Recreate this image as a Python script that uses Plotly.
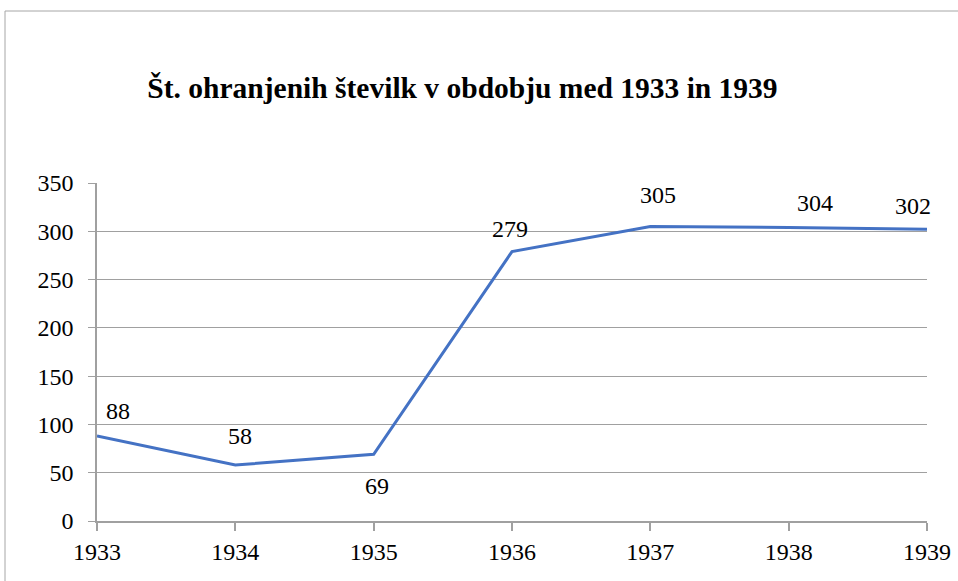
import plotly.graph_objects as go

years = [1933, 1934, 1935, 1936, 1937, 1938, 1939]
values = [88, 58, 69, 279, 305, 304, 302]
title = "Št. ohranjenih številk v obdobju med 1933 in 1939"
label_shift = [(21, 25), (5, 29), (3, -32), (-2, 23), (8, 31), (26, 24), (-14, 23)]

W, H = 958, 581
L, R, T, B = 97, 31, 183, 60
font_family = "'Liberation Serif', 'Times New Roman', Times, serif"

fig = go.Figure()
fig.add_trace(go.Scatter(x=years, y=values, mode="lines",
                         line=dict(color="#4472C4", width=3), hoverinfo="skip"))

for (x, y), (dx, dy) in zip(zip(years, values), label_shift):
    fig.add_annotation(x=x, y=y, text=str(y), showarrow=False, xshift=dx, yshift=dy,
                       font=dict(family=font_family, size=24, color="black"))

pw = W - L - R
ph = H - T - B
fig.add_shape(type="rect", xref="paper", yref="paper",
              x0=(5 - L) / pw, x1=(W + 20 - L) / pw,
              y0=(H - B - (H + 20)) / ph, y1=(H - B - 11) / ph,
              line=dict(color="#a6a6a6", width=1), fillcolor="rgba(0,0,0,0)", layer="below")

fig.update_layout(
    width=W, height=H,
    margin=dict(l=L, r=R, t=T, b=B, autoexpand=False),
    paper_bgcolor="white", plot_bgcolor="white",
    showlegend=False,
    title=dict(text="<b>" + title + "</b>", x=462.5 / W, xanchor="center",
               y=1 - 88 / H, yanchor="middle",
               font=dict(family=font_family, size=29.5, color="black")),
    font=dict(family=font_family, color="black"),
)
fig.update_xaxes(range=[1933, 1939], tickmode="array", tickvals=years,
                 ticktext=[str(y) for y in years], showgrid=False, automargin=False,
                 showline=True, linecolor="#a0a0a0", linewidth=1.5,
                 ticks="outside", ticklen=8, tickcolor="#a0a0a0", tickwidth=1.5,
                 tickfont=dict(family=font_family, size=24, color="black"), zeroline=False)
fig.update_yaxes(range=[0, 350], tickmode="linear", tick0=0, dtick=50, automargin=False,
                 showgrid=True, gridcolor="#a0a0a0", gridwidth=1.2,
                 showline=True, linecolor="#a0a0a0", linewidth=1.5,
                 ticks="outside", ticklen=7, tickcolor="#a0a0a0", tickwidth=1.2,
                 tickfont=dict(family=font_family, size=24, color="black"),
                 zeroline=False, ticklabelstandoff=10)

fig.write_html("out.html", config={"displayModeBar": False},
               post_script="document.body.style.margin='0';")
